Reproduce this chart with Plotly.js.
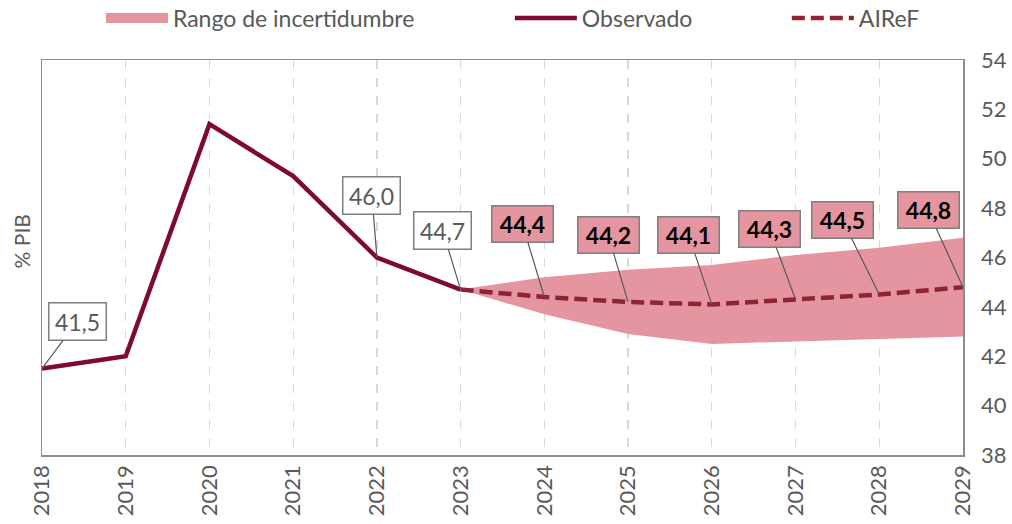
<!DOCTYPE html>
<html>
<head>
<meta charset="utf-8">
<script src="https://cdn.plot.ly/plotly-3.0.1.min.js"></script>
<style>html,body{margin:0;padding:0;background:#fff;}#chart{width:1012px;height:524px;}</style>
</head>
<body>
<div id="chart"></div>
<script>
// Data
const obsYears = [2018, 2019, 2020, 2021, 2022, 2023];
const obsValues = [41.5, 42.0, 51.4, 49.3, 46.0, 44.7];
const airefYears = [2023, 2024, 2025, 2026, 2027, 2028, 2029];
const airefValues = [44.7, 44.4, 44.2, 44.1, 44.3, 44.5, 44.8];
const bandLower = [44.7, 43.7, 42.9, 42.5, 42.6, 42.7, 42.8];
const bandUpper = [44.7, 45.2, 45.5, 45.7, 46.1, 46.4, 46.8];
const yTicks = [38, 40, 42, 44, 46, 48, 50, 52, 54];
const xTicks = [2018, 2019, 2020, 2021, 2022, 2023, 2024, 2025, 2026, 2027, 2028, 2029];
const obsLabelYears = [2018, 2022, 2023];
const obsLabelValues = [41.5, 46.0, 44.7];
const airefLabelYears = [2024, 2025, 2026, 2027, 2028, 2029];
const airefLabelValues = [44.4, 44.2, 44.1, 44.3, 44.5, 44.8];

const FONT = 'Lato, "Open Sans", sans-serif';
const GREY = '#595959';
const BAND = '#e4959f';
const OBS = '#7e0a2c';
const AIREF = '#8e2334';

const fmt = v => v.toFixed(1).replace('.', ',');

const traces = [
  {x: airefYears, y: bandLower, type: 'scatter', mode: 'lines', line: {width: 0, color: BAND},
   showlegend: false, hoverinfo: 'skip'},
  {x: airefYears, y: bandUpper, type: 'scatter', mode: 'lines', line: {width: 0, color: BAND},
   fill: 'tonexty', fillcolor: BAND, name: 'Rango de incertidumbre', showlegend: false},
  // legend swatch for the uncertainty band (no data drawn)
  {x: [null], y: [null], type: 'scatter', mode: 'lines', line: {width: 13, color: BAND},
   name: 'Rango de incertidumbre', legend: 'legend'},
  {x: obsYears, y: obsValues, type: 'scatter', mode: 'lines', line: {width: 4.5, color: OBS},
   name: 'Observado', legend: 'legend2'},
  {x: airefYears, y: airefValues, type: 'scatter', mode: 'lines',
   line: {width: 4.5, color: AIREF, dash: '13px,6px'}, name: 'AIReF', legend: 'legend3'}
];

const obsOffsets = [[35, -47], [-5, -62], [-18, -59]];
const airefOffsets = [[-22, -73], [-20, -67], [-23, -69], [-26, -70], [-37, -75], [-35, -77]];

const annotations = [];
obsLabelYears.forEach((yr, i) => {
  annotations.push({
    x: yr, y: obsLabelValues[i], xref: 'x', yref: 'y', text: fmt(obsLabelValues[i]),
    showarrow: true, arrowhead: 0, arrowwidth: 1.2, arrowcolor: '#595959',
    ax: obsOffsets[i][0], ay: obsOffsets[i][1],
    font: {family: FONT, size: 23, color: GREY},
    bgcolor: '#ffffff', bordercolor: '#7f7f7f', borderwidth: 1.5, borderpad: 3,
    width: 50, height: 30
  });
});
airefLabelYears.forEach((yr, i) => {
  annotations.push({
    x: yr, y: airefLabelValues[i], xref: 'x', yref: 'y', text: '<b>' + fmt(airefLabelValues[i]) + '</b>',
    showarrow: true, arrowhead: 0, arrowwidth: 1.2, arrowcolor: '#595959',
    ax: airefOffsets[i][0], ay: airefOffsets[i][1],
    font: {family: FONT, size: 23, color: '#000000'},
    bgcolor: BAND, bordercolor: '#7f7f7f', borderwidth: 1.5, borderpad: 3,
    width: 54, height: 29
  });
});
annotations.push({
  xref: 'paper', yref: 'paper', x: -0.022, y: 0.54, text: '% PIB', showarrow: false,
  textangle: -90, xanchor: 'center', yanchor: 'middle',
  font: {family: FONT, size: 21, color: GREY}
});

const legendCommon = {orientation: 'h', yanchor: 'middle', y: 1.106, xanchor: 'left',
  font: {family: FONT, size: 23, color: GREY}, bgcolor: 'rgba(0,0,0,0)', itemwidth: 62};

const layout = {
  width: 1012, height: 524,
  margin: {l: 42, r: 49, t: 60, b: 69, autoexpand: false},
  paper_bgcolor: '#ffffff', plot_bgcolor: '#ffffff',
  font: {family: FONT, color: GREY},
  xaxis: {
    range: [2018, 2029], tickvals: xTicks, ticktext: xTicks.map(String), tickangle: -90,
    showgrid: true, gridcolor: '#d9d9d9', griddash: 'dash', gridwidth: 1.2,
    showline: true, linecolor: '#8c8c8c', linewidth: 1.5, mirror: true,
    ticks: '', zeroline: false, tickfont: {family: FONT, size: 22, color: GREY}
  },
  yaxis: {
    range: [38, 54], tickvals: yTicks, side: 'right', showgrid: false,
    showline: true, linecolor: '#8c8c8c', linewidth: 1.5, mirror: true,
    ticks: 'outside', ticklen: 12, tickcolor: 'rgba(0,0,0,0)',
    zeroline: false, tickfont: {family: FONT, size: 22, color: GREY}
  },
  legend: Object.assign({}, legendCommon, {x: 0.064}),
  legend2: Object.assign({}, legendCommon, {x: 0.508}),
  legend3: Object.assign({}, legendCommon, {x: 0.8087}),
  annotations: annotations,
  showlegend: true
};

Plotly.newPlot('chart', traces, layout, {displayModeBar: false, staticPlot: true});
</script>
</body>
</html>
